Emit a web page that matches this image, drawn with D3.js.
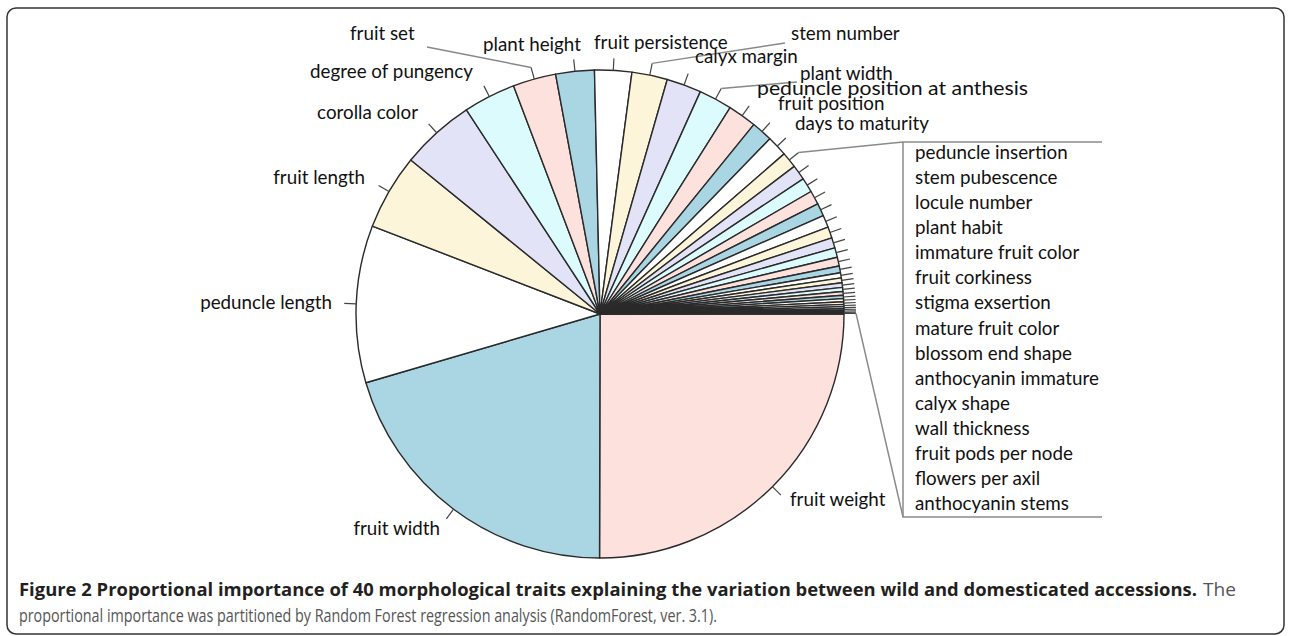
<!DOCTYPE html>
<html>
<head>
<meta charset="utf-8">
<script src="https://cdn.jsdelivr.net/npm/d3@7"></script>
<style>
    body { margin: 0; background: #fff; }
    svg { display: block; }
    .lbl { font-family: Lato, "Noto Sans", sans-serif; font-size: 18.8px; fill: #111; }
    .cap { font-family: "Open Sans", "Noto Sans", sans-serif; font-size: 17.5px; }
</style>
</head>
<body>
<script>
// traits in pie order (clockwise from 3 o'clock)
var mainTraits = ['fruit weight', 'fruit width', 'peduncle length', 'fruit length', 'corolla color',
    'degree of pungency', 'fruit set', 'plant height', 'fruit persistence', 'stem number',
    'calyx margin', 'plant width', 'peduncle position at anthesis', 'fruit position', 'days to maturity']
var mainValues = [25.0, 20.4, 10.4, 5.0, 4.9, 3.45, 2.85, 2.55, 2.45, 2.35, 2.3, 2.2, 1.9, 1.4, 1.35]

var boxTraits = ['peduncle insertion', 'stem pubescence', 'locule number', 'plant habit',
    'immature fruit color', 'fruit corkiness', 'stigma exsertion', 'mature fruit color',
    'blossom end shape', 'anthocyanin immature', 'calyx shape', 'wall thickness',
    'fruit pods per node', 'flowers per axil', 'anthocyanin stems']
var boxValues = [1.05, 1.0, 0.97, 0.92, 0.85, 0.8, 0.75, 0.68, 0.63, 0.58, 0.45, 0.34, 0.32, 0.3, 0.27]

// remaining unlabelled traits (40 in total)
var tinyValues = [0.25, 0.22, 0.2, 0.17, 0.15, 0.13, 0.11, 0.09, 0.08, 0.07]

var sliceColors = ['#fde1dd', '#aad5e3', '#ffffff', '#fdf5d9', '#e3e3f7', '#dcfbfd']

var W = 1290, H = 636
var cx = 600, cy = 314, R = 244

// label placement: [x, baseline, anchor, leader target or null, stretched width or null]
var labelLayout = {
    'fruit weight': [790, 506, 'start', null, null],
    'fruit width': [440, 535, 'end', null, null],
    'peduncle length': [332, 309, 'end', null, null],
    'fruit length': [365, 184, 'end', null, null],
    'corolla color': [418, 119, 'end', null, null],
    'degree of pungency': [473, 78, 'end', null, null],
    'fruit set': [350, 40, 'start', [427, 47], null],
    'plant height': [483, 51, 'start', null, null],
    'fruit persistence': [594, 49, 'start', null, null],
    'stem number': [791, 40, 'start', [785, 43], null],
    'calyx margin': [695, 63, 'start', null, null],
    'plant width': [800, 80, 'start', [797, 82], null],
    'peduncle position at anthesis': [757, 95, 'start', null, 271],
    'fruit position': [778, 110, 'start', null, null],
    'days to maturity': [795, 130, 'start', null, null]
}

var data = []
mainTraits.forEach(function (t, i) { data.push({name: t, value: mainValues[i]}) })
boxTraits.forEach(function (t, i) { data.push({name: t, value: boxValues[i]}) })
tinyValues.forEach(function (v) { data.push({name: '', value: v}) })

var svg = d3.select('body').append('svg')
    .attr('width', W)
    .attr('height', H)

// figure frame
svg.append('rect')
    .attr('x', 7).attr('y', 8)
    .attr('width', 1277).attr('height', 626)
    .attr('rx', 9)
    .attr('fill', 'none')
    .attr('stroke', '#333')
    .attr('stroke-width', 1.5)

var pie = d3.pie()
    .sort(null)
    .value(function (d) { return d.value })
    .startAngle(Math.PI / 2)
    .endAngle(Math.PI / 2 + 2 * Math.PI)

var arcs = pie(data)
var arc = d3.arc().innerRadius(0).outerRadius(R)

var g = svg.append('g').attr('transform', 'translate(' + cx + ',' + cy + ')')

g.selectAll('path.slice')
    .data(arcs)
    .enter()
    .append('path')
    .attr('class', 'slice')
    .attr('d', arc)
    .attr('fill', function (d, i) { return sliceColors[i % sliceColors.length] })
    .attr('stroke', '#2a2a2a')
    .attr('stroke-width', 1.4)
    .attr('stroke-linejoin', 'round')

function polar(a, r) {
    return [cx + r * Math.sin(a), cy - r * Math.cos(a)]
}
function mid(d) { return (d.startAngle + d.endAngle) / 2 }

// small radial tick for every slice
svg.selectAll('line.tick')
    .data(arcs)
    .enter()
    .append('line')
    .attr('class', 'tick')
    .attr('x1', function (d) { return polar(mid(d), R)[0] })
    .attr('y1', function (d) { return polar(mid(d), R)[1] })
    .attr('x2', function (d) { return polar(mid(d), R + 12)[0] })
    .attr('y2', function (d) { return polar(mid(d), R + 12)[1] })
    .attr('stroke', '#444')
    .attr('stroke-width', 1.2)

var labelled = arcs.filter(function (d) { return labelLayout[d.data.name] })

// leader lines
svg.selectAll('line.leader')
    .data(labelled.filter(function (d) { return labelLayout[d.data.name][3] }))
    .enter()
    .append('line')
    .attr('class', 'leader')
    .attr('x1', function (d) { return polar(mid(d), R + 12)[0] })
    .attr('y1', function (d) { return polar(mid(d), R + 12)[1] })
    .attr('x2', function (d) { return labelLayout[d.data.name][3][0] })
    .attr('y2', function (d) { return labelLayout[d.data.name][3][1] })
    .attr('stroke', '#888')
    .attr('stroke-width', 1.5)

svg.selectAll('text.lbl')
    .data(labelled)
    .enter()
    .append('text')
    .attr('class', 'lbl')
    .attr('x', function (d) { return labelLayout[d.data.name][0] })
    .attr('y', function (d) { return labelLayout[d.data.name][1] })
    .attr('text-anchor', function (d) { return labelLayout[d.data.name][2] })
    .each(function (d) {
        var w = labelLayout[d.data.name][4]
        if (w) {
            d3.select(this).attr('textLength', w).attr('lengthAdjust', 'spacingAndGlyphs')
        }
    })
    .text(function (d) { return d.data.name })

// callout box for the small traits
var boxX = 903, boxTop = 142, boxBottom = 517, boxRight = 1102
var firstSmall = arcs[mainTraits.length]
var lastSmall = arcs[arcs.length - 1]
var p1 = polar(mid(firstSmall), R + 12)
var p2 = polar(mid(lastSmall), R + 12)

svg.append('path')
    .attr('d', 'M' + p1[0] + ',' + p1[1] + 'L' + boxX + ',' + boxTop + 'L' + boxRight + ',' + boxTop)
    .attr('fill', 'none').attr('stroke', '#8a8a8a').attr('stroke-width', 1.5)
svg.append('path')
    .attr('d', 'M' + p2[0] + ',' + p2[1] + 'L' + boxX + ',' + boxBottom + 'L' + boxRight + ',' + boxBottom)
    .attr('fill', 'none').attr('stroke', '#8a8a8a').attr('stroke-width', 1.5)
svg.append('line')
    .attr('x1', boxX).attr('y1', boxTop).attr('x2', boxX).attr('y2', boxBottom)
    .attr('stroke', '#8a8a8a').attr('stroke-width', 1.5)

svg.append('clipPath').attr('id', 'boxclip')
    .append('rect').attr('x', boxX).attr('y', boxTop).attr('width', boxRight - boxX - 3).attr('height', boxBottom - boxTop)

var boxY = d3.scalePoint().domain(boxTraits).range([159, 510])

svg.append('g').attr('clip-path', 'url(#boxclip)')
    .selectAll('text')
    .data(boxTraits)
    .enter()
    .append('text')
    .attr('class', 'lbl')
    .attr('x', 915)
    .attr('y', function (d) { return boxY(d) })
    .text(function (d) { return d })

// caption
svg.append('text').attr('class', 'cap')
    .attr('x', 19).attr('y', 596)
    .attr('font-weight', 'bold').attr('fill', '#231f20')
    .attr('textLength', 1178).attr('lengthAdjust', 'spacingAndGlyphs')
    .text('Figure 2 Proportional importance of 40 morphological traits explaining the variation between wild and domesticated accessions.')
svg.append('text').attr('class', 'cap')
    .attr('x', 1203).attr('y', 596)
    .attr('fill', '#555')
    .attr('textLength', 33).attr('lengthAdjust', 'spacingAndGlyphs')
    .text('The')

svg.append('text').attr('class', 'cap')
    .attr('x', 19).attr('y', 622)
    .attr('fill', '#555')
    .attr('textLength', 698).attr('lengthAdjust', 'spacingAndGlyphs')
    .text('proportional importance was partitioned by Random Forest regression analysis (RandomForest, ver. 3.1).')
</script>
</body>
</html>
